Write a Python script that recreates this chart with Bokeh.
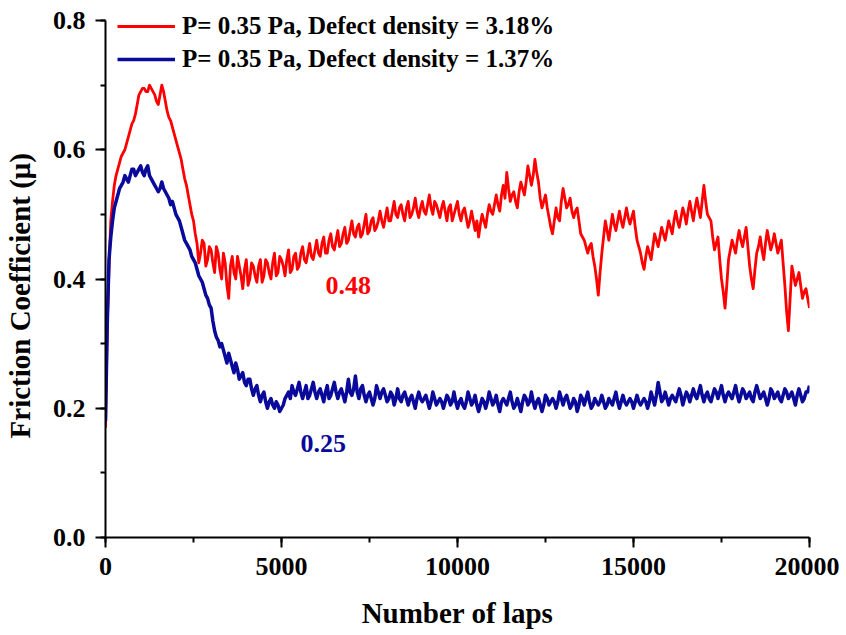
from bokeh.plotting import figure
from bokeh.models import Legend, LegendItem, SingleIntervalTicker, NumeralTickFormatter, Range1d
from bokeh.core.properties import value
from bokeh.embed import file_html
from bokeh.resources import INLINE

# Number of laps: values read every 100 laps, plus the in-between readings at +50
laps_main = list(range(0, 20001, 100))
laps_half = list(range(50, 20000, 100))

# Friction coefficient, P=0.35 Pa, defect density 3.18 %  (at laps_main)
red_mu = [
    0.17, 0.42, 0.52, 0.56, 0.58, 0.595, 0.61, 0.63, 0.645, 0.67,
    0.69, 0.695, 0.69, 0.695, 0.685, 0.67, 0.70, 0.675, 0.65, 0.635,
    0.615, 0.595, 0.57, 0.545, 0.515, 0.49, 0.455, 0.44, 0.455, 0.43,
    0.445, 0.41, 0.44, 0.40, 0.425, 0.37, 0.435, 0.40, 0.42, 0.385,
    0.43, 0.40, 0.42, 0.395, 0.43, 0.405, 0.425, 0.40, 0.44, 0.41,
    0.43, 0.405, 0.445, 0.415, 0.44, 0.42, 0.45, 0.425, 0.455, 0.43,
    0.46, 0.435, 0.465, 0.44, 0.47, 0.445, 0.475, 0.455, 0.48, 0.46,
    0.49, 0.465, 0.485, 0.47, 0.50, 0.475, 0.495, 0.48, 0.505, 0.48,
    0.51, 0.49, 0.52, 0.495, 0.515, 0.49, 0.52, 0.50, 0.525, 0.495,
    0.52, 0.50, 0.53, 0.50, 0.515, 0.495, 0.52, 0.49, 0.515, 0.50,
    0.52, 0.49, 0.51, 0.48, 0.505, 0.475, 0.465, 0.50, 0.48, 0.515,
    0.50, 0.53, 0.505, 0.545, 0.565, 0.52, 0.535, 0.51, 0.55, 0.53,
    0.575, 0.545, 0.585, 0.55, 0.51, 0.53, 0.495, 0.47, 0.51, 0.49,
    0.54, 0.51, 0.525, 0.495, 0.51, 0.47, 0.46, 0.44, 0.455, 0.42,
    0.375, 0.44, 0.49, 0.46, 0.50, 0.475, 0.505, 0.48, 0.51, 0.485,
    0.505, 0.46, 0.44, 0.415, 0.45, 0.43, 0.47, 0.45, 0.48, 0.46,
    0.49, 0.47, 0.505, 0.48, 0.51, 0.485, 0.52, 0.49, 0.525, 0.495,
    0.545, 0.50, 0.49, 0.445, 0.465, 0.40, 0.355, 0.43, 0.46, 0.44,
    0.475, 0.45, 0.48, 0.42, 0.385, 0.44, 0.465, 0.43, 0.475, 0.445,
    0.47, 0.44, 0.46, 0.39, 0.32, 0.42, 0.39, 0.41, 0.37, 0.385,
    0.355,
]
# same series, readings at laps_half
red_mu_half = [
    0.33, 0.49, 0.545, 0.57, 0.59, 0.60, 0.62, 0.64, 0.655, 0.685,
    0.695, 0.69, 0.70, 0.69, 0.675, 0.685, 0.69, 0.66, 0.645, 0.625,
    0.605, 0.585, 0.555, 0.53, 0.50, 0.47, 0.425, 0.46, 0.42, 0.45,
    0.425, 0.45, 0.415, 0.44, 0.39, 0.42, 0.41, 0.435, 0.405, 0.415,
    0.39, 0.425, 0.405, 0.42, 0.395, 0.43, 0.41, 0.425, 0.405, 0.435,
    0.42, 0.43, 0.41, 0.435, 0.415, 0.44, 0.43, 0.44, 0.435, 0.445,
    0.44, 0.455, 0.44, 0.46, 0.45, 0.46, 0.45, 0.47, 0.455, 0.475,
    0.47, 0.48, 0.465, 0.485, 0.47, 0.49, 0.475, 0.49, 0.49, 0.495,
    0.49, 0.505, 0.50, 0.51, 0.50, 0.51, 0.495, 0.51, 0.505, 0.51,
    0.505, 0.515, 0.51, 0.52, 0.505, 0.51, 0.505, 0.51, 0.49, 0.51,
    0.50, 0.505, 0.495, 0.49, 0.49, 0.49, 0.485, 0.49, 0.50, 0.505,
    0.515, 0.515, 0.53, 0.525, 0.54, 0.53, 0.52, 0.535, 0.54, 0.55,
    0.56, 0.56, 0.565, 0.525, 0.52, 0.51, 0.48, 0.49, 0.495, 0.52,
    0.525, 0.515, 0.505, 0.505, 0.49, 0.465, 0.45, 0.45, 0.435, 0.40,
    0.41, 0.465, 0.475, 0.48, 0.485, 0.49, 0.49, 0.495, 0.495, 0.495,
    0.48, 0.45, 0.425, 0.435, 0.44, 0.45, 0.46, 0.465, 0.47, 0.475,
    0.48, 0.49, 0.49, 0.495, 0.50, 0.505, 0.505, 0.51, 0.51, 0.52,
    0.52, 0.495, 0.465, 0.455, 0.43, 0.38, 0.39, 0.445, 0.45, 0.46,
    0.46, 0.465, 0.45, 0.40, 0.415, 0.45, 0.445, 0.455, 0.46, 0.455,
    0.455, 0.45, 0.425, 0.35, 0.37, 0.405, 0.40, 0.39, 0.38, 0.37,
]

# Friction coefficient, P=0.35 Pa, defect density 1.37 %  (at laps_main)
blue_mu = [
    0.18, 0.43, 0.49, 0.52, 0.54, 0.55, 0.555, 0.56, 0.57, 0.565,
    0.575, 0.56, 0.575, 0.555, 0.545, 0.535, 0.55, 0.535, 0.525, 0.52,
    0.50, 0.49, 0.47, 0.455, 0.445, 0.43, 0.415, 0.40, 0.385, 0.37,
    0.355, 0.32, 0.305, 0.30, 0.28, 0.285, 0.265, 0.27, 0.245, 0.255,
    0.235, 0.245, 0.22, 0.235, 0.21, 0.225, 0.20, 0.215, 0.20, 0.205,
    0.20, 0.215, 0.225, 0.235, 0.22, 0.24, 0.215, 0.235, 0.22, 0.24,
    0.215, 0.23, 0.21, 0.235, 0.22, 0.24, 0.215, 0.23, 0.21, 0.245,
    0.22, 0.25, 0.215, 0.235, 0.21, 0.225, 0.205, 0.235, 0.215, 0.23,
    0.21, 0.225, 0.205, 0.23, 0.21, 0.225, 0.205, 0.22, 0.20, 0.225,
    0.21, 0.22, 0.20, 0.225, 0.205, 0.215, 0.20, 0.22, 0.205, 0.225,
    0.20, 0.215, 0.20, 0.225, 0.205, 0.22, 0.195, 0.215, 0.20, 0.225,
    0.205, 0.22, 0.195, 0.215, 0.205, 0.225, 0.20, 0.215, 0.195, 0.22,
    0.205, 0.225, 0.20, 0.215, 0.195, 0.22, 0.205, 0.215, 0.20, 0.225,
    0.205, 0.22, 0.20, 0.215, 0.195, 0.22, 0.205, 0.225, 0.20, 0.215,
    0.205, 0.22, 0.20, 0.215, 0.205, 0.225, 0.20, 0.22, 0.205, 0.215,
    0.20, 0.22, 0.205, 0.215, 0.20, 0.225, 0.205, 0.24, 0.21, 0.225,
    0.205, 0.22, 0.21, 0.23, 0.205, 0.225, 0.21, 0.23, 0.215, 0.235,
    0.21, 0.225, 0.21, 0.23, 0.215, 0.235, 0.21, 0.225, 0.215, 0.235,
    0.21, 0.23, 0.215, 0.225, 0.21, 0.235, 0.215, 0.225, 0.205, 0.23,
    0.215, 0.225, 0.21, 0.23, 0.215, 0.225, 0.205, 0.23, 0.21, 0.225,
    0.235,
]
# same series, readings at laps_half
blue_mu_half = [
    0.33, 0.465, 0.51, 0.53, 0.545, 0.56, 0.55, 0.57, 0.56, 0.57,
    0.565, 0.57, 0.56, 0.55, 0.54, 0.54, 0.54, 0.53, 0.515, 0.51,
    0.495, 0.48, 0.46, 0.45, 0.435, 0.425, 0.405, 0.395, 0.375, 0.36,
    0.335, 0.31, 0.295, 0.29, 0.27, 0.275, 0.255, 0.26, 0.25, 0.24,
    0.245, 0.23, 0.23, 0.22, 0.22, 0.21, 0.21, 0.205, 0.21, 0.195,
    0.205, 0.22, 0.215, 0.225, 0.23, 0.225, 0.225, 0.215, 0.23, 0.225,
    0.225, 0.22, 0.225, 0.215, 0.23, 0.225, 0.225, 0.22, 0.225, 0.225,
    0.23, 0.225, 0.23, 0.22, 0.22, 0.215, 0.215, 0.225, 0.225, 0.22,
    0.215, 0.22, 0.215, 0.215, 0.22, 0.215, 0.215, 0.21, 0.215, 0.215,
    0.215, 0.21, 0.21, 0.215, 0.21, 0.21, 0.21, 0.215, 0.21, 0.21,
    0.21, 0.205, 0.21, 0.215, 0.21, 0.205, 0.205, 0.21, 0.21, 0.215,
    0.21, 0.205, 0.21, 0.21, 0.215, 0.21, 0.205, 0.205, 0.21, 0.215,
    0.21, 0.21, 0.21, 0.205, 0.205, 0.215, 0.21, 0.21, 0.21, 0.215,
    0.215, 0.21, 0.205, 0.21, 0.205, 0.215, 0.215, 0.21, 0.205, 0.21,
    0.21, 0.21, 0.205, 0.21, 0.215, 0.21, 0.21, 0.21, 0.21, 0.21,
    0.21, 0.21, 0.21, 0.21, 0.21, 0.215, 0.22, 0.225, 0.215, 0.215,
    0.215, 0.215, 0.22, 0.22, 0.215, 0.22, 0.22, 0.22, 0.225, 0.22,
    0.22, 0.215, 0.22, 0.225, 0.225, 0.22, 0.22, 0.22, 0.225, 0.22,
    0.22, 0.225, 0.22, 0.215, 0.225, 0.225, 0.22, 0.215, 0.215, 0.225,
    0.22, 0.215, 0.22, 0.225, 0.22, 0.215, 0.22, 0.22, 0.215, 0.225,
]

legend_labels = ["P= 0.35 Pa, Defect density = 3.18%",
                 "P= 0.35 Pa, Defect density = 1.37%"]
annot_text = ["0.48", "0.25"]
annot_x = [6250, 5540]
annot_y = [0.39, 0.145]

RED = "#FF0000"
BLUE = "#0A0A9A"
FONT = "Liberation Serif"

assert len(red_mu) == len(laps_main) == len(blue_mu)
assert len(red_mu_half) == len(laps_half) == len(blue_mu_half)


def merge(xa, ya, xb, yb):
    pts = sorted(list(zip(xa, ya)) + list(zip(xb, yb)))
    return [p[0] for p in pts], [p[1] for p in pts]


lx_r, ly_r = merge(laps_main, red_mu, laps_half, red_mu_half)
lx_b, ly_b = merge(laps_main, blue_mu, laps_half, blue_mu_half)

# frame extends ~10px above the 0.8 tick so the legend is not clipped;
# the visible y axis is bounded to 0..0.8
Y_TOP = 0.8 * 527 / 517

p = figure(frame_width=704, frame_height=527, output_backend="svg", toolbar_location=None,
           x_range=Range1d(0, 20000), y_range=Range1d(0, Y_TOP),
           min_border_left=97, min_border_right=30,
           min_border_top=10, min_border_bottom=88)
p.outline_line_color = None
p.grid.visible = False
p.background_fill_color = "white"
p.border_fill_color = "white"

r_red = p.line(lx_r, ly_r, line_color=RED, line_width=2.8, line_join="round")
r_blue = p.line(lx_b, ly_b, line_color=BLUE, line_width=3.5, line_join="round")

p.text(x=annot_x[:1], y=annot_y[:1], text=annot_text[:1], text_color=RED,
       text_font=value(FONT), text_font_style="bold", text_font_size="26px",
       text_baseline="alphabetic")
p.text(x=annot_x[1:], y=annot_y[1:], text=annot_text[1:], text_color=BLUE,
       text_font=value(FONT), text_font_style="bold", text_font_size="26px",
       text_baseline="alphabetic")

p.xaxis.ticker = SingleIntervalTicker(interval=5000, num_minor_ticks=2)
p.yaxis.ticker = SingleIntervalTicker(interval=0.2, num_minor_ticks=2)
p.yaxis.formatter = NumeralTickFormatter(format="0.0")
p.yaxis.bounds = (0, 0.8)

for ax in (p.xaxis, p.yaxis):
    ax.axis_line_width = 2
    ax.axis_line_color = "black"
    ax.major_tick_line_width = 2
    ax.minor_tick_line_width = 2
    ax.major_tick_out = 10
    ax.major_tick_in = 0
    ax.minor_tick_out = 5
    ax.minor_tick_in = 0
    ax.major_label_text_font = FONT
    ax.major_label_text_font_style = "bold"
    ax.major_label_text_font_size = "26px"
    ax.major_label_text_color = "black"
    ax.axis_label_text_font = FONT
    ax.axis_label_text_font_style = "bold"
    ax.axis_label_text_font_size = "29px"
    ax.axis_label_text_color = "black"

p.xaxis.axis_label = "Number of laps"
p.yaxis.axis_label = "Friction Coefficient (\u03bc)" + "\u00a0" * 6
p.xaxis.major_label_standoff = 10
p.yaxis.major_label_standoff = 10
p.xaxis.axis_label_standoff = 19
p.yaxis.axis_label_standoff = 14

legend = Legend(items=[LegendItem(label=legend_labels[0], renderers=[r_red]),
                       LegendItem(label=legend_labels[1], renderers=[r_blue])],
                location=(12, 463), orientation="vertical")
legend.border_line_color = None
legend.background_fill_alpha = 0
legend.padding = 0
legend.margin = 0
legend.spacing = 3
legend.glyph_width = 58
legend.glyph_height = 30
legend.label_height = 30
legend.label_standoff = 7
legend.label_text_font = FONT
legend.label_text_font_style = "bold"
legend.label_text_font_size = "25px"
legend.label_text_color = "black"
legend.label_text_baseline = "middle"
p.add_layout(legend)

open("out.html", "w").write(file_html(p, INLINE))
